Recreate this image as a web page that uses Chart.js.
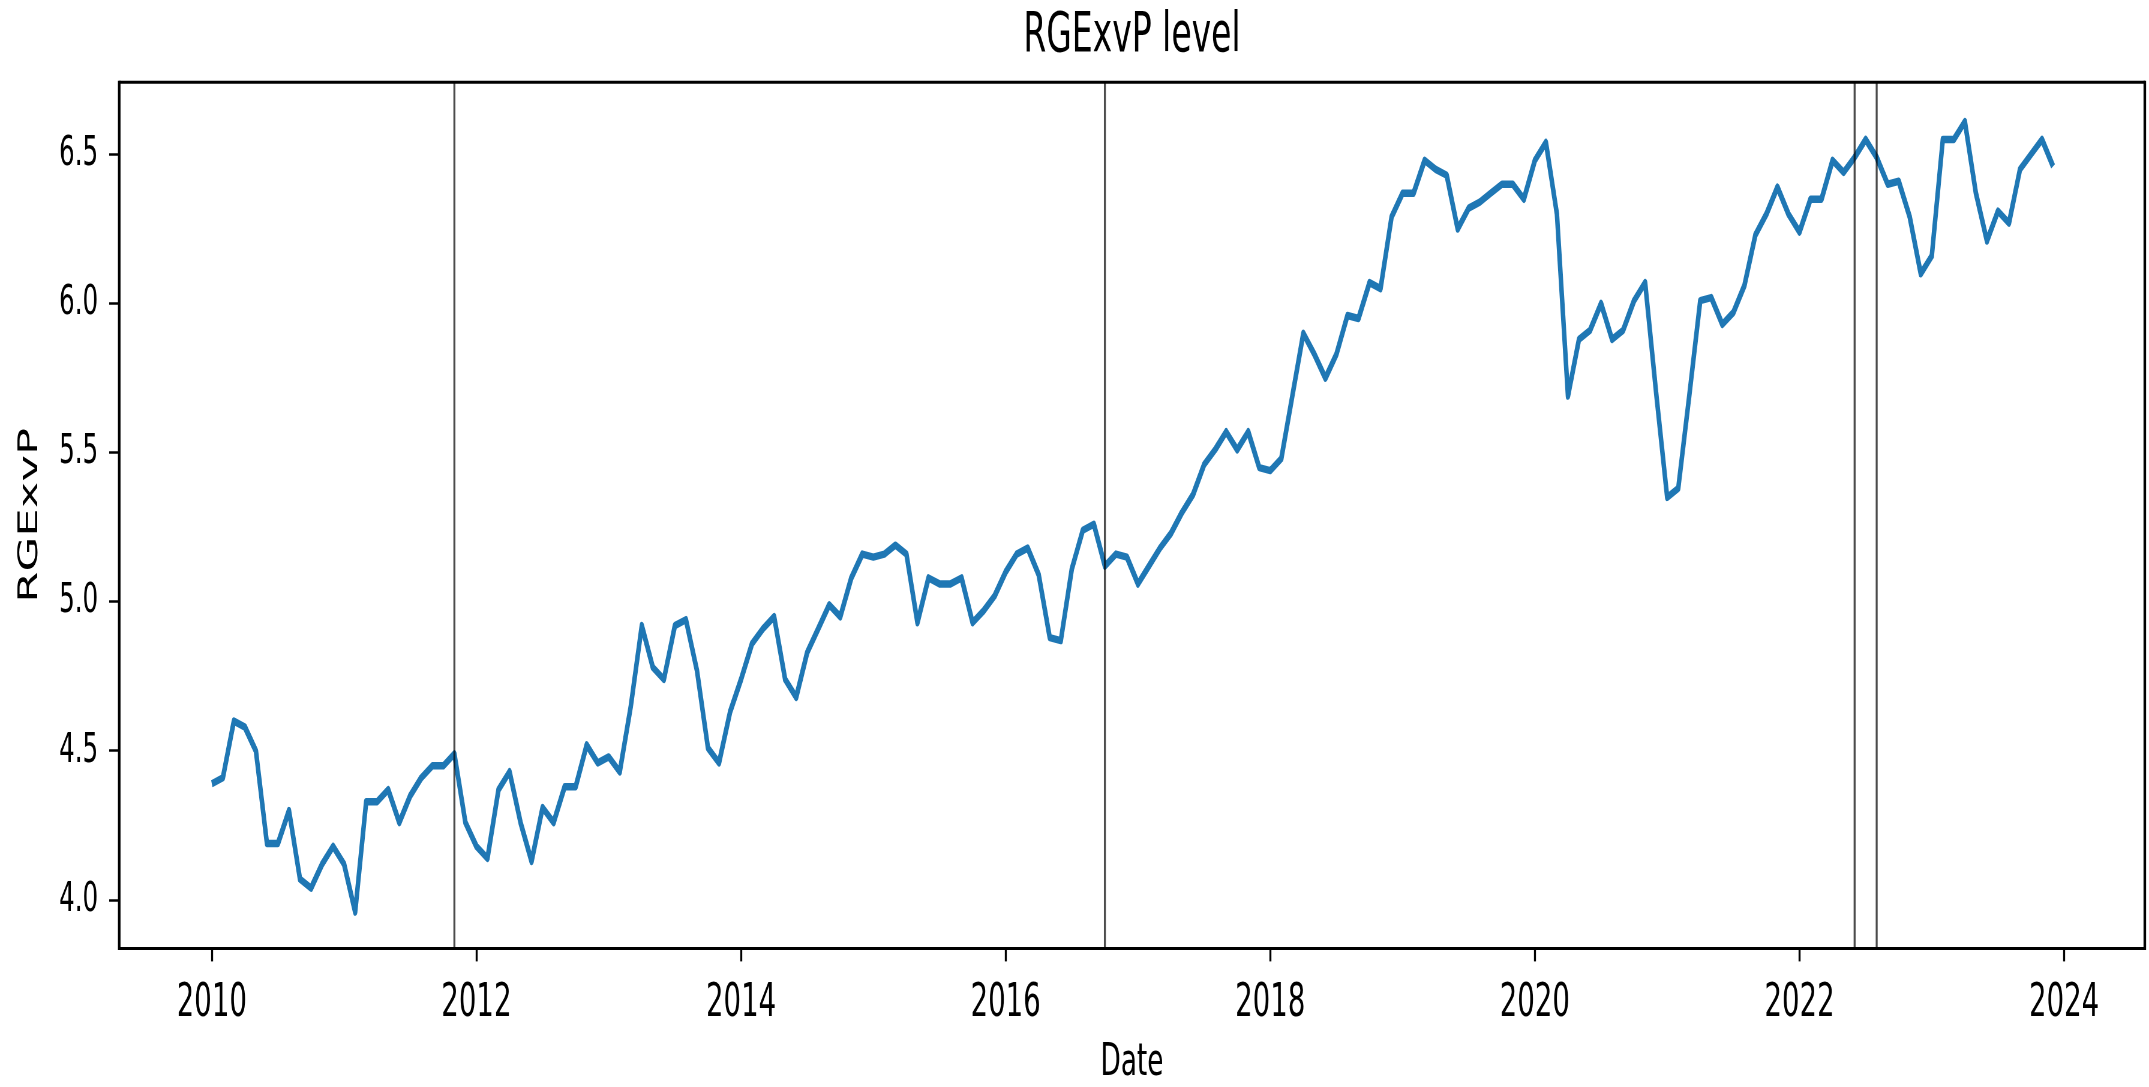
<!DOCTYPE html>
<html>
<head>
<meta charset="utf-8">
<title>RGExvP level</title>
<script src="https://cdn.jsdelivr.net/npm/chart.js@4.4.1/dist/chart.umd.min.js"></script>
<style>
	html, body { margin: 0; padding: 0; background: #fff; overflow: hidden; }
	#wrap { width: 2149px; height: 1087px; overflow: hidden; }
	/* the reference figure is squeezed sideways, so draw wide and scale down */
	#chart { display: block; transform-origin: 0 0; }
</style>
</head>
<body>
<div id="wrap"><canvas id="chart"></canvas></div>
<script>
const firstYear = 2010 // monthly series, January 2010 to December 2023

const rgexvp = [
	4.39, 4.41, 4.60, 4.58, 4.50, 4.19, 4.19, 4.30, 4.07, 4.04, 4.12, 4.18, // 2010
	4.12, 3.96, 4.33, 4.33, 4.37, 4.26, 4.35, 4.41, 4.45, 4.45, 4.49, 4.26, // 2011
	4.18, 4.14, 4.37, 4.43, 4.26, 4.13, 4.31, 4.26, 4.38, 4.38, 4.52, 4.46, // 2012
	4.48, 4.43, 4.65, 4.92, 4.78, 4.74, 4.92, 4.94, 4.77, 4.51, 4.46, 4.63, // 2013
	4.74, 4.86, 4.91, 4.95, 4.74, 4.68, 4.83, 4.91, 4.99, 4.95, 5.08, 5.16, // 2014
	5.15, 5.16, 5.19, 5.16, 4.93, 5.08, 5.06, 5.06, 5.08, 4.93, 4.97, 5.02, // 2015
	5.10, 5.16, 5.18, 5.09, 4.88, 4.87, 5.11, 5.24, 5.26, 5.12, 5.16, 5.15, // 2016
	5.06, 5.12, 5.18, 5.23, 5.30, 5.36, 5.46, 5.51, 5.57, 5.51, 5.57, 5.45, // 2017
	5.44, 5.48, 5.69, 5.90, 5.83, 5.75, 5.83, 5.96, 5.95, 6.07, 6.05, 6.29, // 2018
	6.37, 6.37, 6.48, 6.45, 6.43, 6.25, 6.32, 6.34, 6.37, 6.40, 6.40, 6.35, // 2019
	6.48, 6.54, 6.30, 5.69, 5.88, 5.91, 6.00, 5.88, 5.91, 6.01, 6.07, 5.70, // 2020
	5.35, 5.38, 5.69, 6.01, 6.02, 5.93, 5.97, 6.06, 6.23, 6.30, 6.39, 6.30, // 2021
	6.24, 6.35, 6.35, 6.48, 6.44, 6.49, 6.55, 6.49, 6.40, 6.41, 6.29, 6.10, // 2022
	6.16, 6.55, 6.55, 6.61, 6.37, 6.21, 6.31, 6.27, 6.45, 6.50, 6.55, 6.46, // 2023
]

// Vertical marker lines, as year-month.
const eventMonths = ['2011-11', '2016-10', '2022-06', '2022-08']

const xRange = [2009.30, 2024.61]
const yRange = [3.838, 6.742]
const xTickStep = 2
const yTickStep = 0.5

const squeeze = 0.6 // horizontal scale of the whole figure
const width = Math.round(2149 / squeeze)
const height = 1087
const sx = 2149 / width // exact squeeze after rounding

const font = 'DejaVu Sans'

const monthToYear = (ym) => {
	const [y, m] = ym.split('-').map(Number)
	return y + (m - 1) / 12
}

const points = rgexvp.map((v, i) => ({ x: firstYear + i / 12, y: v }))

const framePlugin = {
	id: 'frame',
	afterDatasetsDraw(chart) {
		const { ctx, chartArea: { left, right, top, bottom }, scales: { x } } = chart
		ctx.save()

		// Marker lines across the full plot height.
		ctx.strokeStyle = 'rgba(0, 0, 0, 0.7)'
		ctx.lineWidth = 2 / sx
		eventMonths.forEach((ym) => {
			const px = x.getPixelForValue(monthToYear(ym))
			ctx.beginPath()
			ctx.moveTo(px, top)
			ctx.lineTo(px, bottom)
			ctx.stroke()
		})

		// Axes box: horizontal and vertical spines need different widths after the squeeze.
		ctx.strokeStyle = '#000'
		ctx.lineWidth = 3
		ctx.beginPath()
		ctx.moveTo(left, top)
		ctx.lineTo(right, top)
		ctx.moveTo(left, bottom)
		ctx.lineTo(right, bottom)
		ctx.stroke()
		ctx.lineWidth = 2.6 / sx
		ctx.beginPath()
		ctx.moveTo(left, top - 1.5)
		ctx.lineTo(left, bottom + 1.5)
		ctx.moveTo(right, top - 1.5)
		ctx.lineTo(right, bottom + 1.5)
		ctx.stroke()

		ctx.restore()
	},
}

const canvasElement = document.getElementById('chart')
canvasElement.width = width
canvasElement.height = height
canvasElement.style.transform = `scaleX(${sx})`

const chart = new Chart(canvasElement, {
	type: 'line',
	data: {
		datasets: [{
			label: 'RGExvP',
			data: points,
			borderColor: '#1f77b4',
			borderWidth: 7.5,
			borderJoinStyle: 'round',
			pointRadius: 0,
			tension: 0,
			fill: false,
		}],
	},
	options: {
		responsive: false,
		animation: false,
		devicePixelRatio: 1,
		layout: { padding: { left: 0, right: 7, top: 0, bottom: 0 } },
		plugins: {
			legend: { display: false },
			tooltip: { enabled: false },
			title: {
				display: true,
				fullSize: false, // centre over the plot area, like matplotlib
				text: 'RGExvP level',
				color: '#000',
				font: { family: font, size: 55, weight: 'normal', lineHeight: 1.15 },
				padding: { top: 5, bottom: 14 },
			},
		},
		scales: {
			x: {
				type: 'linear',
				min: xRange[0],
				max: xRange[1],
				afterFit: (scale) => { scale.height = 138.6 },
				grid: {
					drawOnChartArea: false,
					drawTicks: true,
					tickLength: 13,
					tickWidth: 2 / sx,
					tickColor: '#000',
				},
				border: { display: false },
				ticks: {
					stepSize: xTickStep,
					includeBounds: false,
					autoSkip: false,
					maxRotation: 0,
					padding: 15,
					color: '#000',
					font: { family: font, size: 46 },
					callback: value => String(value),
				},
				title: {
					display: true,
					text: 'Date',
					color: '#000',
					font: { family: font, size: 44, lineHeight: 1 },
					padding: { top: 0, bottom: 1 },
				},
			},
			y: {
				type: 'linear',
				min: yRange[0],
				max: yRange[1],
				afterFit: (scale) => { scale.width = 119.2 / sx },
				grid: {
					drawOnChartArea: false,
					drawTicks: true,
					tickLength: 10 / sx,
					tickWidth: 2.5,
					tickColor: '#000',
				},
				border: { display: false },
				ticks: {
					stepSize: yTickStep,
					includeBounds: false,
					padding: 11 / sx,
					color: '#000',
					font: { family: font, size: 41 },
					callback: value => value.toFixed(1),
				},
				title: {
					display: true,
					text: 'RGExvP',
					color: '#000',
					font: { family: font, size: 45, lineHeight: 1 },
					padding: { top: 28, bottom: 0 },
				},
			},
		},
	},
	plugins: [framePlugin],
})
</script>
</body>
</html>
